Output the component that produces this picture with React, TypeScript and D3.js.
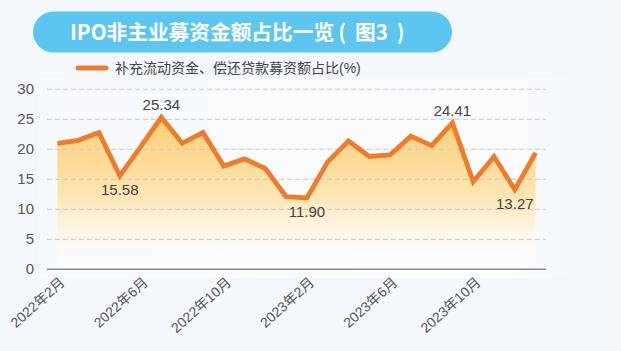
import React from "react";
import * as d3 from "d3";

const months: string[] = [
  "2022年2月", "2022年3月", "2022年4月", "2022年5月", "2022年6月", "2022年7月",
  "2022年8月", "2022年9月", "2022年10月", "2022年11月", "2022年12月", "2023年1月",
  "2023年2月", "2023年3月", "2023年4月", "2023年5月", "2023年6月", "2023年7月",
  "2023年8月", "2023年9月", "2023年10月", "2023年11月", "2023年12月", "2024年1月",
];
const values: number[] = [
  21.0, 21.5, 22.8, 15.58, 20.4, 25.34, 21.0, 22.8, 17.2, 18.4, 16.8, 12.1,
  11.9, 17.9, 21.4, 18.8, 19.05, 22.2, 20.6, 24.41, 14.6, 18.8, 13.27, 19.4,
];
const tickLabels: string[] = ["2022年2月", "2022年6月", "2022年10月", "2023年2月", "2023年6月", "2023年10月"];
const yTicks: number[] = [0, 5, 10, 15, 20, 25, 30];
const labeled: { idx: number; pos: "above" | "below" }[] = [
  { idx: 3, pos: "below" },
  { idx: 5, pos: "above" },
  { idx: 12, pos: "below" },
  { idx: 19, pos: "above" },
  { idx: 22, pos: "below" },
];
const titleMain = "IPO非主业募资金额占比一览";
const titleTag = "图3";
const legendText = "补充流动资金、偿还贷款募资额占比(%)";

const W = 621;
const H = 351;
const FONT = "'Liberation Sans', Arial, 'Noto Sans CJK SC', sans-serif";

export default function App() {
  const x = d3.scalePoint<string>().domain(months).range([47, 546]).padding(0.5);
  const y = d3.scaleLinear().domain([0, 30]).range([269.3, 89.3]);
  const line = d3
    .line<number>()
    .x((_, i) => x(months[i]) as number)
    .y((d) => y(d));
  const area = d3
    .area<number>()
    .x((_, i) => x(months[i]) as number)
    .y0(y(0))
    .y1((d) => y(d));

  return (
    <svg
      width={W}
      height={H}
      style={{ position: "fixed", left: 0, top: 0, display: "block" }}
      xmlns="http://www.w3.org/2000/svg"
    >
      <defs>
        <linearGradient id="fillGrad" gradientUnits="userSpaceOnUse" x1="0" y1={y(25)} x2="0" y2={y(2)}>
          <stop offset="0%" stopColor="#fbcf78" />
          <stop offset="55%" stopColor="#fde5b2" />
          <stop offset="100%" stopColor="#fffdf8" stopOpacity="0.4" />
        </linearGradient>
        <linearGradient id="panelGrad" x1="0" y1="0" x2="1" y2="0">
          <stop offset="0%" stopColor="#ffffff" stopOpacity="0.3" />
          <stop offset="85%" stopColor="#ffffff" stopOpacity="0.6" />
          <stop offset="100%" stopColor="#ffffff" stopOpacity="0" />
        </linearGradient>
      </defs>
      <rect x={0} y={0} width={W} height={H} fill="#f4f8fc" />
      <rect x={38} y={78} width={550} height={200} fill="url(#panelGrad)" />

      {/* title pill */}
      <rect x={33} y={11.5} width={419} height={41} rx={20.5} ry={20.5} fill="#5cc6f1" />
      <text
        x={70}
        y={39.5}
        fill="#ffffff"
        fontSize={20.7}
        fontWeight={700}
        fontFamily="'Noto Sans CJK SC', sans-serif"
      >
        {titleMain}
        <tspan dx={4}>(</tspan>
        <tspan dx={9}>{titleTag}</tspan>
        <tspan dx={9}>)</tspan>
      </text>

      {/* legend */}
      <line x1={78} y1={68} x2={106} y2={68} stroke="#f07c2c" strokeWidth={5} strokeLinecap="round" />
      <text x={115} y={73} fill="#444" fontSize={14} fontFamily={FONT}>
        {legendText}
      </text>

      {/* area */}
      <path d={area(values) || ""} fill="url(#fillGrad)" />

      {/* grid */}
      {yTicks.filter((t) => t > 0).map((t) => (
        <line
          key={t}
          x1={47}
          x2={546}
          y1={y(t)}
          y2={y(t)}
          stroke="#c8c8c8"
          strokeWidth={1}
          strokeDasharray="5,3"
        />
      ))}
      <line x1={47} x2={546} y1={y(0)} y2={y(0)} stroke="#8a8a8a" strokeWidth={1.5} />

      {/* y labels */}
      {yTicks.map((t) => (
        <text
          key={t}
          x={34}
          y={y(t) + 5}
          textAnchor="end"
          fill="#555"
          fontSize={15}
          fontFamily={FONT}
        >
          {t}
        </text>
      ))}

      {/* x labels */}
      {tickLabels.map((lab) => {
        const px = (x(lab) as number) + 5;
        const py = 280;
        return (
          <text
            key={lab}
            transform={`translate(${px},${py}) rotate(-42)`}
            textAnchor="end"
            dominantBaseline="central"
            fill="#555"
            fontSize={14}
            fontFamily={FONT}
          >
            {lab}
          </text>
        );
      })}

      {/* line */}
      <path
        d={line(values) || ""}
        fill="none"
        stroke="#ef7b2b"
        strokeWidth={4.8}
        strokeLinejoin="miter"
        strokeLinecap="butt"
      />

      {/* data labels */}
      {labeled.map(({ idx, pos }) => {
        const px = x(months[idx]) as number;
        const py = y(values[idx]);
        return (
          <text
            key={idx}
            x={px}
            y={pos === "above" ? py - 7 : py + 19}
            textAnchor="middle"
            fill="#444"
            fontSize={15}
            fontFamily={FONT}
          >
            {values[idx].toFixed(2)}
          </text>
        );
      })}
    </svg>
  );
}
